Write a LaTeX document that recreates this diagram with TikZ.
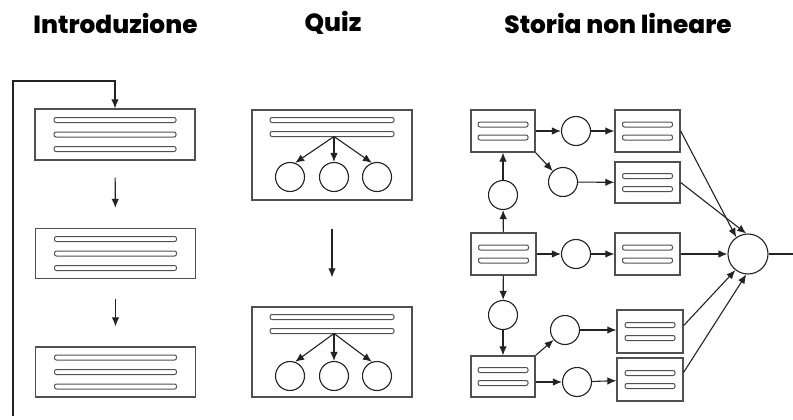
\documentclass[tikz,border=0pt]{standalone}
\usepackage{fontspec}
\setmainfont{Poppins}
\newfontfamily\titlefont{Poppins ExtraBold}
\usetikzlibrary{arrows.meta,calc}
\definecolor{boxc}{RGB}{80,80,80}
\definecolor{linec}{RGB}{35,35,35}
\newcommand\mybar[3]{\draw[bar] ($(#1)+({-(#2)/2},{(#3)-2.5})$) rectangle ++(#2,5);}
\begin{document}
\begin{tikzpicture}[x=1pt,y=-1pt,
  box/.style={draw=boxc, line width=1.3pt, inner sep=0pt, fill=white},
  bar/.style={draw=boxc, line width=1pt, rounded corners=2pt},
  circ/.style={circle, draw=linec, line width=1.1pt, minimum size=29pt, inner sep=0pt},
  arr/.style={-{Latex[length=9pt,width=7.5pt]}, line width=1.1pt, draw=linec},
  ln/.style={line width=1.1pt, draw=linec},
  title/.style={font=\titlefont\fontsize{24.8}{28}\selectfont, text=black}]
\useasboundingbox (0,0) rectangle (793,420);
% titles
\node[title] (t1) at (115.5,23) {Introduzione};
\node[title] (t2) at (333,23) {Quiz};
\node[title] (t3) at (618,23) {Storia non lineare};
% Introduzione
\node[box, minimum width=160, minimum height=51] (I1) at (115,134.5) {};
\node[box, minimum width=160, minimum height=50] (I2) at (115.5,253.5) {};
\node[box, minimum width=160, minimum height=50] (I3) at (115.5,372) {};
\foreach \n in {I1,I2,I3}{\mybar{\n}{122}{-14.5}\mybar{\n}{122}{0}\mybar{\n}{122}{14.5}}
\coordinate (L1) at (13,416);
\coordinate (L2) at (13,81);
\draw[arr] (L1) -- (L2) -| (I1.north);
\draw[arr, shorten <=17pt, shorten >=20pt] (I1) -- (I2);
\draw[arr, shorten <=20pt, shorten >=20pt] (I2) -- (I3);
% Quiz
\node[box, minimum width=160, minimum height=90] (Q1) at (332,155) {};
\node[box, minimum width=160, minimum height=90] (Q2) at (332,352) {};
\foreach \n in {Q1,Q2}{\mybar{\n}{124}{-35}\mybar{\n}{124}{-21}}
\node[circ] (q1a) at (290,177) {};
\node[circ] (q1b) at (334,177) {};
\node[circ] (q1c) at (377,177) {};
\node[circ] (q2a) at (290,376) {};
\node[circ] (q2b) at (334,376) {};
\node[circ] (q2c) at (377,376) {};
\coordinate (o1) at (334,136.5);
\coordinate (o2) at (334,333.5);
\draw[arr] (o1) -- (q1a.70);
\draw[arr] (o1) -- (q1b.north);
\draw[arr] (o1) -- (q1c.110);
\draw[arr] (o2) -- (q2a.70);
\draw[arr] (o2) -- (q2b.north);
\draw[arr] (o2) -- (q2c.110);
\draw[arr, shorten <=28pt, shorten >=29pt] (Q1.south) -- (Q2.north);
% Storia non lineare
\node[box, minimum width=64, minimum height=42] (A) at (503,131) {};
\node[box, minimum width=65, minimum height=42] (B) at (647.5,131) {};
\node[box, minimum width=65, minimum height=41] (C) at (647.5,182.5) {};
\node[box, minimum width=65, minimum height=42] (D) at (503.5,254) {};
\node[box, minimum width=65, minimum height=42] (E) at (647.5,254) {};
\node[box, minimum width=64, minimum height=41] (F) at (503,376.5) {};
\node[box, minimum width=66, minimum height=43] (G) at (650,331.5) {};
\node[box, minimum width=66, minimum height=43] (H) at (650,379.5) {};
\foreach \n in {A,B,C,D,E,F,G,H}{\mybar{\n}{50}{-6.5}\mybar{\n}{50}{6.5}}
\node[circ] (c1) at (576,131) {};
\node[circ] (c2) at (563,182) {};
\node[circ] (c3) at (503,195) {};
\node[circ] (c4) at (576,254) {};
\node[circ] (c5) at (503,315) {};
\node[circ] (c6) at (565,330) {};
\node[circ] (c7) at (577,382) {};
\node[circ, minimum size=40pt] (Z) at (748,254) {};
\coordinate (out) at (793,254);
\draw[arr] (A) -- (c1);
\draw[arr] (c1) -- (B);
\draw[arr] (A.south east) -- (c2);
\draw[arr] (c2) -- (C);
\draw[arr] (c3) -- (A);
\draw[arr] (D) -- (c3);
\draw[arr] (D) -- (c4);
\draw[arr] (c4) -- (E);
\draw[arr] (E) -- (Z);
\draw[arr] (D) -- (c5);
\draw[arr] (c5) -- (F);
\draw[arr] (F.north east) -- (c6);
\draw[arr] (c6) -- (c6 -| G.west);
\draw[arr] (F.east |- c7) -- (c7);
\draw[arr] (c7) -- (H);
\draw[arr] (B.east) -- (Z.125);
\draw[arr] (C.east) -- (Z.95);
\draw[arr] (G.10) -- (Z.232);
\draw[arr] (H.12) -- (Z.265);
\draw[ln] (Z.east) -- (out);
\end{tikzpicture}
\end{document}
